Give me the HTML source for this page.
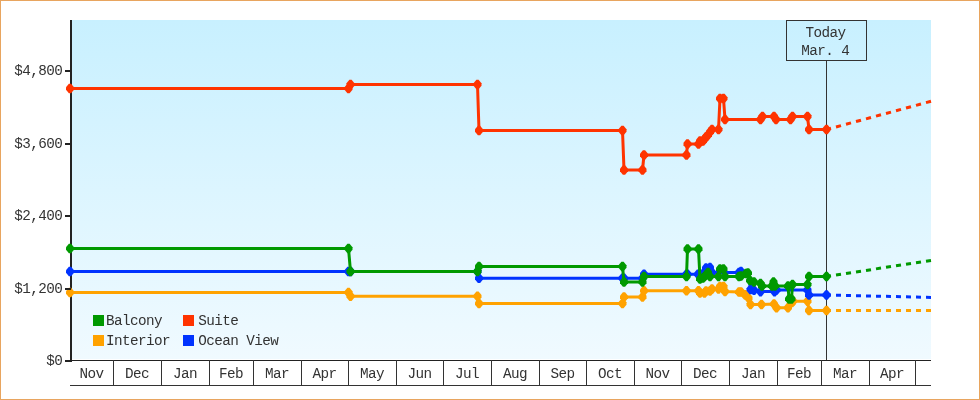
<!DOCTYPE html>
<html lang="en"><head><meta charset="utf-8"><title>Price history</title>
<style>
html,body{margin:0;padding:0;background:#fff;}
body{width:980px;height:400px;overflow:hidden;}
#chart{position:relative;width:978px;height:398px;border:1px solid #E8A55F;background:#fff;}
svg{position:absolute;left:-1px;top:-1px;display:block;}
text{font-family:"Liberation Mono", "DejaVu Sans Mono", monospace;font-size:14.3px;fill:#333333;letter-spacing:-0.58px;}
</style></head><body><div id="chart">
<svg width="980" height="400" viewBox="0 0 980 400">
<defs><linearGradient id="bg" x1="0" y1="0" x2="0" y2="1"><stop offset="0" stop-color="#C8F0FF"/><stop offset="1" stop-color="#F0FAFF"/></linearGradient></defs>

<rect x="71" y="20" width="860" height="339" fill="url(#bg)"/>
<rect x="826" y="60" width="1" height="300" fill="#333"/>
<rect x="786.5" y="20.5" width="80" height="40" fill="none" stroke="#333" stroke-width="1"/>
<text x="825.4" y="36.6" text-anchor="middle">Today</text>
<text x="825.2" y="54.8" text-anchor="middle">Mar. 4</text>
<rect x="70" y="20" width="2" height="342" fill="#222"/>
<rect x="70" y="360" width="861" height="1" fill="#222"/>
<rect x="70" y="385" width="861" height="1" fill="#333"/>
<path d="M70.0 292.5 L348.5 292.5 L350.5 296.3 L477.5 296.3 L479.0 303.5 L622.5 303.5 L624.0 297.0 L642.5 297.0 L644.0 290.8 L686.5 290.8 L698.5 290.8 L700.0 293.0 L704.5 293.0 L706.0 291.0 L710.0 291.0 L712.0 289.0 L718.5 289.0 L720.0 286.5 L723.5 286.5 L725.0 291.5 L739.0 292.0 L741.0 292.0 L745.0 294.8 L748.5 298.0 L750.5 304.5 L761.5 304.5 L774.0 304.0 L776.5 307.7 L788.0 307.7 L792.0 302.5 L793.0 301.3 L807.5 301.3 L809.0 310.5 L826.5 310.5" fill="none" stroke="#FFA200" stroke-width="3" stroke-linejoin="round"/>
<line x1="826.0" y1="310.50" x2="931.0" y2="310.50" stroke="#FFA200" stroke-width="3" stroke-dasharray="5.000 5.000"/>
<polygon fill="#FFA200" points="66.0,291.3 68.9,287.8 71.1,287.8 74.0,291.3 74.0,293.7 71.1,297.2 68.9,297.2 66.0,293.7"/>
<polygon fill="#FFA200" points="344.5,291.3 347.4,287.8 349.6,287.8 352.5,291.3 352.5,293.7 349.6,297.2 347.4,297.2 344.5,293.7"/>
<polygon fill="#FFA200" points="346.5,295.1 349.4,291.6 351.6,291.6 354.5,295.1 354.5,297.5 351.6,301.1 349.4,301.1 346.5,297.5"/>
<polygon fill="#FFA200" points="473.5,295.1 476.4,291.6 478.6,291.6 481.5,295.1 481.5,297.5 478.6,301.1 476.4,301.1 473.5,297.5"/>
<polygon fill="#FFA200" points="475.0,302.3 477.9,298.8 480.1,298.8 483.0,302.3 483.0,304.7 480.1,308.2 477.9,308.2 475.0,304.7"/>
<polygon fill="#FFA200" points="618.5,302.3 621.4,298.8 623.6,298.8 626.5,302.3 626.5,304.7 623.6,308.2 621.4,308.2 618.5,304.7"/>
<polygon fill="#FFA200" points="620.0,295.8 622.9,292.2 625.1,292.2 628.0,295.8 628.0,298.2 625.1,301.8 622.9,301.8 620.0,298.2"/>
<polygon fill="#FFA200" points="638.5,295.8 641.4,292.2 643.6,292.2 646.5,295.8 646.5,298.2 643.6,301.8 641.4,301.8 638.5,298.2"/>
<polygon fill="#FFA200" points="640.0,289.6 642.9,286.1 645.1,286.1 648.0,289.6 648.0,292.0 645.1,295.6 642.9,295.6 640.0,292.0"/>
<polygon fill="#FFA200" points="682.5,289.6 685.4,286.1 687.6,286.1 690.5,289.6 690.5,292.0 687.6,295.6 685.4,295.6 682.5,292.0"/>
<polygon fill="#FFA200" points="694.5,289.6 697.4,286.1 699.6,286.1 702.5,289.6 702.5,292.0 699.6,295.6 697.4,295.6 694.5,292.0"/>
<polygon fill="#FFA200" points="696.0,291.8 698.9,288.2 701.1,288.2 704.0,291.8 704.0,294.2 701.1,297.8 698.9,297.8 696.0,294.2"/>
<polygon fill="#FFA200" points="700.5,291.8 703.4,288.2 705.6,288.2 708.5,291.8 708.5,294.2 705.6,297.8 703.4,297.8 700.5,294.2"/>
<polygon fill="#FFA200" points="702.0,289.8 704.9,286.2 707.1,286.2 710.0,289.8 710.0,292.2 707.1,295.8 704.9,295.8 702.0,292.2"/>
<polygon fill="#FFA200" points="706.0,289.8 708.9,286.2 711.1,286.2 714.0,289.8 714.0,292.2 711.1,295.8 708.9,295.8 706.0,292.2"/>
<polygon fill="#FFA200" points="708.0,287.8 710.9,284.2 713.1,284.2 716.0,287.8 716.0,290.2 713.1,293.8 710.9,293.8 708.0,290.2"/>
<polygon fill="#FFA200" points="714.5,287.8 717.4,284.2 719.6,284.2 722.5,287.8 722.5,290.2 719.6,293.8 717.4,293.8 714.5,290.2"/>
<polygon fill="#FFA200" points="716.0,285.3 718.9,281.8 721.1,281.8 724.0,285.3 724.0,287.7 721.1,291.2 718.9,291.2 716.0,287.7"/>
<polygon fill="#FFA200" points="719.5,285.3 722.4,281.8 724.6,281.8 727.5,285.3 727.5,287.7 724.6,291.2 722.4,291.2 719.5,287.7"/>
<polygon fill="#FFA200" points="721.0,290.3 723.9,286.8 726.1,286.8 729.0,290.3 729.0,292.7 726.1,296.2 723.9,296.2 721.0,292.7"/>
<polygon fill="#FFA200" points="735.0,290.8 737.9,287.2 740.1,287.2 743.0,290.8 743.0,293.2 740.1,296.8 737.9,296.8 735.0,293.2"/>
<polygon fill="#FFA200" points="737.0,290.8 739.9,287.2 742.1,287.2 745.0,290.8 745.0,293.2 742.1,296.8 739.9,296.8 737.0,293.2"/>
<polygon fill="#FFA200" points="741.0,293.6 743.9,290.1 746.1,290.1 749.0,293.6 749.0,296.0 746.1,299.6 743.9,299.6 741.0,296.0"/>
<polygon fill="#FFA200" points="744.5,296.8 747.4,293.2 749.6,293.2 752.5,296.8 752.5,299.2 749.6,302.8 747.4,302.8 744.5,299.2"/>
<polygon fill="#FFA200" points="746.5,303.3 749.4,299.8 751.6,299.8 754.5,303.3 754.5,305.7 751.6,309.2 749.4,309.2 746.5,305.7"/>
<polygon fill="#FFA200" points="757.5,303.3 760.4,299.8 762.6,299.8 765.5,303.3 765.5,305.7 762.6,309.2 760.4,309.2 757.5,305.7"/>
<polygon fill="#FFA200" points="770.0,302.8 772.9,299.2 775.1,299.2 778.0,302.8 778.0,305.2 775.1,308.8 772.9,308.8 770.0,305.2"/>
<polygon fill="#FFA200" points="772.5,306.5 775.4,302.9 777.6,302.9 780.5,306.5 780.5,308.9 777.6,312.4 775.4,312.4 772.5,308.9"/>
<polygon fill="#FFA200" points="784.0,306.5 786.9,302.9 789.1,302.9 792.0,306.5 792.0,308.9 789.1,312.4 786.9,312.4 784.0,308.9"/>
<polygon fill="#FFA200" points="788.0,301.3 790.9,297.8 793.1,297.8 796.0,301.3 796.0,303.7 793.1,307.2 790.9,307.2 788.0,303.7"/>
<polygon fill="#FFA200" points="789.0,300.1 791.9,296.6 794.1,296.6 797.0,300.1 797.0,302.5 794.1,306.1 791.9,306.1 789.0,302.5"/>
<polygon fill="#FFA200" points="803.5,300.1 806.4,296.6 808.6,296.6 811.5,300.1 811.5,302.5 808.6,306.1 806.4,306.1 803.5,302.5"/>
<polygon fill="#FFA200" points="805.0,309.3 807.9,305.8 810.1,305.8 813.0,309.3 813.0,311.7 810.1,315.2 807.9,315.2 805.0,311.7"/>
<polygon fill="#FFA200" points="822.5,309.3 825.4,305.8 827.6,305.8 830.5,309.3 830.5,311.7 827.6,315.2 825.4,315.2 822.5,311.7"/>
<path d="M70.0 271.5 L348.5 271.5 L350.5 271.5 L477.5 271.5 L479.0 278.3 L622.5 278.3 L624.0 278.3 L642.5 278.3 L644.0 274.2 L686.5 274.2 L687.5 274.2 L698.0 274.2 L700.0 274.2 L704.5 272.0 L706.0 268.0 L710.0 267.5 L712.0 272.5 L739.0 272.5 L741.0 271.5 L748.5 272.5 L750.5 289.5 L754.0 290.3 L760.5 291.6 L774.5 291.6 L776.5 290.0 L807.5 290.0 L809.0 295.0 L826.5 295.0" fill="none" stroke="#0033FF" stroke-width="3" stroke-linejoin="round"/>
<line x1="826.0" y1="294.99" x2="931.0" y2="297.40" stroke="#0033FF" stroke-width="3" stroke-dasharray="5.001 5.001"/>
<polygon fill="#0033FF" points="66.0,270.3 68.9,266.8 71.1,266.8 74.0,270.3 74.0,272.7 71.1,276.2 68.9,276.2 66.0,272.7"/>
<polygon fill="#0033FF" points="344.5,270.3 347.4,266.8 349.6,266.8 352.5,270.3 352.5,272.7 349.6,276.2 347.4,276.2 344.5,272.7"/>
<polygon fill="#0033FF" points="346.5,270.3 349.4,266.8 351.6,266.8 354.5,270.3 354.5,272.7 351.6,276.2 349.4,276.2 346.5,272.7"/>
<polygon fill="#0033FF" points="473.5,270.3 476.4,266.8 478.6,266.8 481.5,270.3 481.5,272.7 478.6,276.2 476.4,276.2 473.5,272.7"/>
<polygon fill="#0033FF" points="475.0,277.1 477.9,273.6 480.1,273.6 483.0,277.1 483.0,279.5 480.1,283.1 477.9,283.1 475.0,279.5"/>
<polygon fill="#0033FF" points="618.5,277.1 621.4,273.6 623.6,273.6 626.5,277.1 626.5,279.5 623.6,283.1 621.4,283.1 618.5,279.5"/>
<polygon fill="#0033FF" points="620.0,277.1 622.9,273.6 625.1,273.6 628.0,277.1 628.0,279.5 625.1,283.1 622.9,283.1 620.0,279.5"/>
<polygon fill="#0033FF" points="638.5,277.1 641.4,273.6 643.6,273.6 646.5,277.1 646.5,279.5 643.6,283.1 641.4,283.1 638.5,279.5"/>
<polygon fill="#0033FF" points="640.0,273.0 642.9,269.4 645.1,269.4 648.0,273.0 648.0,275.4 645.1,278.9 642.9,278.9 640.0,275.4"/>
<polygon fill="#0033FF" points="682.5,273.0 685.4,269.4 687.6,269.4 690.5,273.0 690.5,275.4 687.6,278.9 685.4,278.9 682.5,275.4"/>
<polygon fill="#0033FF" points="683.5,273.0 686.4,269.4 688.6,269.4 691.5,273.0 691.5,275.4 688.6,278.9 686.4,278.9 683.5,275.4"/>
<polygon fill="#0033FF" points="694.0,273.0 696.9,269.4 699.1,269.4 702.0,273.0 702.0,275.4 699.1,278.9 696.9,278.9 694.0,275.4"/>
<polygon fill="#0033FF" points="696.0,273.0 698.9,269.4 701.1,269.4 704.0,273.0 704.0,275.4 701.1,278.9 698.9,278.9 696.0,275.4"/>
<polygon fill="#0033FF" points="700.5,270.8 703.4,267.2 705.6,267.2 708.5,270.8 708.5,273.2 705.6,276.8 703.4,276.8 700.5,273.2"/>
<polygon fill="#0033FF" points="702.0,266.8 704.9,263.2 707.1,263.2 710.0,266.8 710.0,269.2 707.1,272.8 704.9,272.8 702.0,269.2"/>
<polygon fill="#0033FF" points="706.0,266.3 708.9,262.8 711.1,262.8 714.0,266.3 714.0,268.7 711.1,272.2 708.9,272.2 706.0,268.7"/>
<polygon fill="#0033FF" points="708.0,271.3 710.9,267.8 713.1,267.8 716.0,271.3 716.0,273.7 713.1,277.2 710.9,277.2 708.0,273.7"/>
<polygon fill="#0033FF" points="735.0,271.3 737.9,267.8 740.1,267.8 743.0,271.3 743.0,273.7 740.1,277.2 737.9,277.2 735.0,273.7"/>
<polygon fill="#0033FF" points="737.0,270.3 739.9,266.8 742.1,266.8 745.0,270.3 745.0,272.7 742.1,276.2 739.9,276.2 737.0,272.7"/>
<polygon fill="#0033FF" points="746.5,288.3 749.4,284.8 751.6,284.8 754.5,288.3 754.5,290.7 751.6,294.2 749.4,294.2 746.5,290.7"/>
<polygon fill="#0033FF" points="750.0,289.1 752.9,285.6 755.1,285.6 758.0,289.1 758.0,291.5 755.1,295.1 752.9,295.1 750.0,291.5"/>
<polygon fill="#0033FF" points="756.5,290.4 759.4,286.9 761.6,286.9 764.5,290.4 764.5,292.8 761.6,296.4 759.4,296.4 756.5,292.8"/>
<polygon fill="#0033FF" points="770.5,290.4 773.4,286.9 775.6,286.9 778.5,290.4 778.5,292.8 775.6,296.4 773.4,296.4 770.5,292.8"/>
<polygon fill="#0033FF" points="772.5,288.8 775.4,285.2 777.6,285.2 780.5,288.8 780.5,291.2 777.6,294.8 775.4,294.8 772.5,291.2"/>
<polygon fill="#0033FF" points="803.5,288.8 806.4,285.2 808.6,285.2 811.5,288.8 811.5,291.2 808.6,294.8 806.4,294.8 803.5,291.2"/>
<polygon fill="#0033FF" points="805.0,293.8 807.9,290.2 810.1,290.2 813.0,293.8 813.0,296.2 810.1,299.8 807.9,299.8 805.0,296.2"/>
<polygon fill="#0033FF" points="822.5,293.8 825.4,290.2 827.6,290.2 830.5,293.8 830.5,296.2 827.6,299.8 825.4,299.8 822.5,296.2"/>
<path d="M70.0 248.5 L348.5 248.5 L350.5 271.5 L477.5 271.5 L479.0 266.5 L622.5 266.5 L624.0 282.0 L642.5 282.0 L644.0 276.5 L686.5 276.5 L687.5 249.0 L698.5 249.0 L700.0 279.0 L703.0 278.0 L704.5 276.5 L706.0 275.0 L708.0 272.5 L710.0 276.5 L718.5 276.5 L720.0 269.0 L723.5 269.0 L725.0 276.5 L739.0 276.5 L741.0 276.0 L746.0 273.5 L748.0 273.0 L750.0 280.5 L754.0 282.0 L760.5 283.5 L762.0 286.0 L772.0 286.0 L773.5 282.0 L775.0 286.0 L788.0 286.0 L789.0 299.0 L791.5 299.0 L792.5 284.5 L807.5 284.5 L809.0 276.5 L826.5 276.5" fill="none" stroke="#009900" stroke-width="3" stroke-linejoin="round"/>
<line x1="826.0" y1="276.58" x2="931.0" y2="260.40" stroke="#009900" stroke-width="3" stroke-dasharray="5.059 5.059"/>
<polygon fill="#009900" points="66.0,247.3 68.9,243.8 71.1,243.8 74.0,247.3 74.0,249.7 71.1,253.2 68.9,253.2 66.0,249.7"/>
<polygon fill="#009900" points="344.5,247.3 347.4,243.8 349.6,243.8 352.5,247.3 352.5,249.7 349.6,253.2 347.4,253.2 344.5,249.7"/>
<polygon fill="#009900" points="346.5,270.3 349.4,266.8 351.6,266.8 354.5,270.3 354.5,272.7 351.6,276.2 349.4,276.2 346.5,272.7"/>
<polygon fill="#009900" points="473.5,270.3 476.4,266.8 478.6,266.8 481.5,270.3 481.5,272.7 478.6,276.2 476.4,276.2 473.5,272.7"/>
<polygon fill="#009900" points="475.0,265.3 477.9,261.8 480.1,261.8 483.0,265.3 483.0,267.7 480.1,271.2 477.9,271.2 475.0,267.7"/>
<polygon fill="#009900" points="618.5,265.3 621.4,261.8 623.6,261.8 626.5,265.3 626.5,267.7 623.6,271.2 621.4,271.2 618.5,267.7"/>
<polygon fill="#009900" points="620.0,280.8 622.9,277.2 625.1,277.2 628.0,280.8 628.0,283.2 625.1,286.8 622.9,286.8 620.0,283.2"/>
<polygon fill="#009900" points="638.5,280.8 641.4,277.2 643.6,277.2 646.5,280.8 646.5,283.2 643.6,286.8 641.4,286.8 638.5,283.2"/>
<polygon fill="#009900" points="640.0,275.3 642.9,271.8 645.1,271.8 648.0,275.3 648.0,277.7 645.1,281.2 642.9,281.2 640.0,277.7"/>
<polygon fill="#009900" points="682.5,275.3 685.4,271.8 687.6,271.8 690.5,275.3 690.5,277.7 687.6,281.2 685.4,281.2 682.5,277.7"/>
<polygon fill="#009900" points="683.5,247.8 686.4,244.2 688.6,244.2 691.5,247.8 691.5,250.2 688.6,253.8 686.4,253.8 683.5,250.2"/>
<polygon fill="#009900" points="694.5,247.8 697.4,244.2 699.6,244.2 702.5,247.8 702.5,250.2 699.6,253.8 697.4,253.8 694.5,250.2"/>
<polygon fill="#009900" points="696.0,277.8 698.9,274.2 701.1,274.2 704.0,277.8 704.0,280.2 701.1,283.8 698.9,283.8 696.0,280.2"/>
<polygon fill="#009900" points="699.0,276.8 701.9,273.2 704.1,273.2 707.0,276.8 707.0,279.2 704.1,282.8 701.9,282.8 699.0,279.2"/>
<polygon fill="#009900" points="700.5,275.3 703.4,271.8 705.6,271.8 708.5,275.3 708.5,277.7 705.6,281.2 703.4,281.2 700.5,277.7"/>
<polygon fill="#009900" points="702.0,273.8 704.9,270.2 707.1,270.2 710.0,273.8 710.0,276.2 707.1,279.8 704.9,279.8 702.0,276.2"/>
<polygon fill="#009900" points="704.0,271.3 706.9,267.8 709.1,267.8 712.0,271.3 712.0,273.7 709.1,277.2 706.9,277.2 704.0,273.7"/>
<polygon fill="#009900" points="706.0,275.3 708.9,271.8 711.1,271.8 714.0,275.3 714.0,277.7 711.1,281.2 708.9,281.2 706.0,277.7"/>
<polygon fill="#009900" points="714.5,275.3 717.4,271.8 719.6,271.8 722.5,275.3 722.5,277.7 719.6,281.2 717.4,281.2 714.5,277.7"/>
<polygon fill="#009900" points="716.0,267.8 718.9,264.2 721.1,264.2 724.0,267.8 724.0,270.2 721.1,273.8 718.9,273.8 716.0,270.2"/>
<polygon fill="#009900" points="719.5,267.8 722.4,264.2 724.6,264.2 727.5,267.8 727.5,270.2 724.6,273.8 722.4,273.8 719.5,270.2"/>
<polygon fill="#009900" points="721.0,275.3 723.9,271.8 726.1,271.8 729.0,275.3 729.0,277.7 726.1,281.2 723.9,281.2 721.0,277.7"/>
<polygon fill="#009900" points="735.0,275.3 737.9,271.8 740.1,271.8 743.0,275.3 743.0,277.7 740.1,281.2 737.9,281.2 735.0,277.7"/>
<polygon fill="#009900" points="737.0,274.8 739.9,271.2 742.1,271.2 745.0,274.8 745.0,277.2 742.1,280.8 739.9,280.8 737.0,277.2"/>
<polygon fill="#009900" points="742.0,272.3 744.9,268.8 747.1,268.8 750.0,272.3 750.0,274.7 747.1,278.2 744.9,278.2 742.0,274.7"/>
<polygon fill="#009900" points="744.0,271.8 746.9,268.2 749.1,268.2 752.0,271.8 752.0,274.2 749.1,277.8 746.9,277.8 744.0,274.2"/>
<polygon fill="#009900" points="746.0,279.3 748.9,275.8 751.1,275.8 754.0,279.3 754.0,281.7 751.1,285.2 748.9,285.2 746.0,281.7"/>
<polygon fill="#009900" points="750.0,280.8 752.9,277.2 755.1,277.2 758.0,280.8 758.0,283.2 755.1,286.8 752.9,286.8 750.0,283.2"/>
<polygon fill="#009900" points="756.5,282.3 759.4,278.8 761.6,278.8 764.5,282.3 764.5,284.7 761.6,288.2 759.4,288.2 756.5,284.7"/>
<polygon fill="#009900" points="758.0,284.8 760.9,281.2 763.1,281.2 766.0,284.8 766.0,287.2 763.1,290.8 760.9,290.8 758.0,287.2"/>
<polygon fill="#009900" points="768.0,284.8 770.9,281.2 773.1,281.2 776.0,284.8 776.0,287.2 773.1,290.8 770.9,290.8 768.0,287.2"/>
<polygon fill="#009900" points="769.5,280.8 772.4,277.2 774.6,277.2 777.5,280.8 777.5,283.2 774.6,286.8 772.4,286.8 769.5,283.2"/>
<polygon fill="#009900" points="771.0,284.8 773.9,281.2 776.1,281.2 779.0,284.8 779.0,287.2 776.1,290.8 773.9,290.8 771.0,287.2"/>
<polygon fill="#009900" points="784.0,284.8 786.9,281.2 789.1,281.2 792.0,284.8 792.0,287.2 789.1,290.8 786.9,290.8 784.0,287.2"/>
<polygon fill="#009900" points="785.0,297.8 787.9,294.2 790.1,294.2 793.0,297.8 793.0,300.2 790.1,303.8 787.9,303.8 785.0,300.2"/>
<polygon fill="#009900" points="787.5,297.8 790.4,294.2 792.6,294.2 795.5,297.8 795.5,300.2 792.6,303.8 790.4,303.8 787.5,300.2"/>
<polygon fill="#009900" points="788.5,283.3 791.4,279.8 793.6,279.8 796.5,283.3 796.5,285.7 793.6,289.2 791.4,289.2 788.5,285.7"/>
<polygon fill="#009900" points="803.5,283.3 806.4,279.8 808.6,279.8 811.5,283.3 811.5,285.7 808.6,289.2 806.4,289.2 803.5,285.7"/>
<polygon fill="#009900" points="805.0,275.3 807.9,271.8 810.1,271.8 813.0,275.3 813.0,277.7 810.1,281.2 807.9,281.2 805.0,277.7"/>
<polygon fill="#009900" points="822.5,275.3 825.4,271.8 827.6,271.8 830.5,275.3 830.5,277.7 827.6,281.2 825.4,281.2 822.5,277.7"/>
<path d="M70.0 88.5 L348.5 88.5 L350.5 84.5 L477.5 84.5 L479.0 130.5 L622.5 130.5 L624.0 170.0 L642.5 170.0 L644.0 155.0 L686.5 155.0 L687.5 144.0 L698.5 144.0 L700.0 141.0 L703.0 141.0 L704.5 139.0 L706.0 137.0 L708.0 135.0 L710.0 132.0 L712.0 129.5 L718.5 129.5 L720.0 98.5 L723.5 98.5 L725.0 119.5 L760.5 119.5 L762.5 116.5 L774.0 116.5 L776.0 119.5 L790.5 119.5 L792.5 116.5 L807.5 116.5 L809.0 129.5 L826.5 129.5" fill="none" stroke="#FF3300" stroke-width="3" stroke-linejoin="round"/>
<line x1="826.0" y1="129.63" x2="931.0" y2="101.30" stroke="#FF3300" stroke-width="3" stroke-dasharray="5.179 5.179"/>
<polygon fill="#FF3300" points="66.0,87.3 68.9,83.8 71.1,83.8 74.0,87.3 74.0,89.7 71.1,93.2 68.9,93.2 66.0,89.7"/>
<polygon fill="#FF3300" points="344.5,87.3 347.4,83.8 349.6,83.8 352.5,87.3 352.5,89.7 349.6,93.2 347.4,93.2 344.5,89.7"/>
<polygon fill="#FF3300" points="346.5,83.3 349.4,79.8 351.6,79.8 354.5,83.3 354.5,85.7 351.6,89.2 349.4,89.2 346.5,85.7"/>
<polygon fill="#FF3300" points="473.5,83.3 476.4,79.8 478.6,79.8 481.5,83.3 481.5,85.7 478.6,89.2 476.4,89.2 473.5,85.7"/>
<polygon fill="#FF3300" points="475.0,129.3 477.9,125.8 480.1,125.8 483.0,129.3 483.0,131.7 480.1,135.2 477.9,135.2 475.0,131.7"/>
<polygon fill="#FF3300" points="618.5,129.3 621.4,125.8 623.6,125.8 626.5,129.3 626.5,131.7 623.6,135.2 621.4,135.2 618.5,131.7"/>
<polygon fill="#FF3300" points="620.0,168.8 622.9,165.2 625.1,165.2 628.0,168.8 628.0,171.2 625.1,174.8 622.9,174.8 620.0,171.2"/>
<polygon fill="#FF3300" points="638.5,168.8 641.4,165.2 643.6,165.2 646.5,168.8 646.5,171.2 643.6,174.8 641.4,174.8 638.5,171.2"/>
<polygon fill="#FF3300" points="640.0,153.8 642.9,150.2 645.1,150.2 648.0,153.8 648.0,156.2 645.1,159.8 642.9,159.8 640.0,156.2"/>
<polygon fill="#FF3300" points="682.5,153.8 685.4,150.2 687.6,150.2 690.5,153.8 690.5,156.2 687.6,159.8 685.4,159.8 682.5,156.2"/>
<polygon fill="#FF3300" points="683.5,142.8 686.4,139.2 688.6,139.2 691.5,142.8 691.5,145.2 688.6,148.8 686.4,148.8 683.5,145.2"/>
<polygon fill="#FF3300" points="694.5,142.8 697.4,139.2 699.6,139.2 702.5,142.8 702.5,145.2 699.6,148.8 697.4,148.8 694.5,145.2"/>
<polygon fill="#FF3300" points="696.0,139.8 698.9,136.2 701.1,136.2 704.0,139.8 704.0,142.2 701.1,145.8 698.9,145.8 696.0,142.2"/>
<polygon fill="#FF3300" points="699.0,139.8 701.9,136.2 704.1,136.2 707.0,139.8 707.0,142.2 704.1,145.8 701.9,145.8 699.0,142.2"/>
<polygon fill="#FF3300" points="700.5,137.8 703.4,134.2 705.6,134.2 708.5,137.8 708.5,140.2 705.6,143.8 703.4,143.8 700.5,140.2"/>
<polygon fill="#FF3300" points="702.0,135.8 704.9,132.2 707.1,132.2 710.0,135.8 710.0,138.2 707.1,141.8 704.9,141.8 702.0,138.2"/>
<polygon fill="#FF3300" points="704.0,133.8 706.9,130.2 709.1,130.2 712.0,133.8 712.0,136.2 709.1,139.8 706.9,139.8 704.0,136.2"/>
<polygon fill="#FF3300" points="706.0,130.8 708.9,127.2 711.1,127.2 714.0,130.8 714.0,133.2 711.1,136.8 708.9,136.8 706.0,133.2"/>
<polygon fill="#FF3300" points="708.0,128.3 710.9,124.8 713.1,124.8 716.0,128.3 716.0,130.7 713.1,134.2 710.9,134.2 708.0,130.7"/>
<polygon fill="#FF3300" points="714.5,128.3 717.4,124.8 719.6,124.8 722.5,128.3 722.5,130.7 719.6,134.2 717.4,134.2 714.5,130.7"/>
<polygon fill="#FF3300" points="716.0,97.3 718.9,93.8 721.1,93.8 724.0,97.3 724.0,99.7 721.1,103.2 718.9,103.2 716.0,99.7"/>
<polygon fill="#FF3300" points="719.5,97.3 722.4,93.8 724.6,93.8 727.5,97.3 727.5,99.7 724.6,103.2 722.4,103.2 719.5,99.7"/>
<polygon fill="#FF3300" points="721.0,118.3 723.9,114.8 726.1,114.8 729.0,118.3 729.0,120.7 726.1,124.2 723.9,124.2 721.0,120.7"/>
<polygon fill="#FF3300" points="756.5,118.3 759.4,114.8 761.6,114.8 764.5,118.3 764.5,120.7 761.6,124.2 759.4,124.2 756.5,120.7"/>
<polygon fill="#FF3300" points="758.5,115.3 761.4,111.8 763.6,111.8 766.5,115.3 766.5,117.7 763.6,121.2 761.4,121.2 758.5,117.7"/>
<polygon fill="#FF3300" points="770.0,115.3 772.9,111.8 775.1,111.8 778.0,115.3 778.0,117.7 775.1,121.2 772.9,121.2 770.0,117.7"/>
<polygon fill="#FF3300" points="772.0,118.3 774.9,114.8 777.1,114.8 780.0,118.3 780.0,120.7 777.1,124.2 774.9,124.2 772.0,120.7"/>
<polygon fill="#FF3300" points="786.5,118.3 789.4,114.8 791.6,114.8 794.5,118.3 794.5,120.7 791.6,124.2 789.4,124.2 786.5,120.7"/>
<polygon fill="#FF3300" points="788.5,115.3 791.4,111.8 793.6,111.8 796.5,115.3 796.5,117.7 793.6,121.2 791.4,121.2 788.5,117.7"/>
<polygon fill="#FF3300" points="803.5,115.3 806.4,111.8 808.6,111.8 811.5,115.3 811.5,117.7 808.6,121.2 806.4,121.2 803.5,117.7"/>
<polygon fill="#FF3300" points="805.0,128.3 807.9,124.8 810.1,124.8 813.0,128.3 813.0,130.7 810.1,134.2 807.9,134.2 805.0,130.7"/>
<polygon fill="#FF3300" points="822.5,128.3 825.4,124.8 827.6,124.8 830.5,128.3 830.5,130.7 827.6,134.2 825.4,134.2 822.5,130.7"/>
<rect x="65" y="70" width="6" height="2" fill="#222"/>
<text x="62.3" y="75.0" text-anchor="end">$4,800</text>
<rect x="65" y="143" width="6" height="2" fill="#222"/>
<text x="62.3" y="148.0" text-anchor="end">$3,600</text>
<rect x="65" y="215" width="6" height="2" fill="#222"/>
<text x="62.3" y="220.0" text-anchor="end">$2,400</text>
<rect x="65" y="288" width="6" height="2" fill="#222"/>
<text x="62.3" y="293.0" text-anchor="end">$1,200</text>
<rect x="65" y="360" width="6" height="2" fill="#222"/>
<text x="62.3" y="365.0" text-anchor="end">$0</text>
<rect x="113" y="360" width="1" height="25" fill="#333"/>
<text x="91.5" y="377.6" text-anchor="middle">Nov</text>
<rect x="161" y="360" width="1" height="25" fill="#333"/>
<text x="137.0" y="377.6" text-anchor="middle">Dec</text>
<rect x="209" y="360" width="1" height="25" fill="#333"/>
<text x="185.0" y="377.6" text-anchor="middle">Jan</text>
<rect x="253" y="360" width="1" height="25" fill="#333"/>
<text x="231.0" y="377.6" text-anchor="middle">Feb</text>
<rect x="301" y="360" width="1" height="25" fill="#333"/>
<text x="277.0" y="377.6" text-anchor="middle">Mar</text>
<rect x="348" y="360" width="1" height="25" fill="#333"/>
<text x="324.5" y="377.6" text-anchor="middle">Apr</text>
<rect x="396" y="360" width="1" height="25" fill="#333"/>
<text x="372.0" y="377.6" text-anchor="middle">May</text>
<rect x="443" y="360" width="1" height="25" fill="#333"/>
<text x="419.5" y="377.6" text-anchor="middle">Jun</text>
<rect x="491" y="360" width="1" height="25" fill="#333"/>
<text x="467.0" y="377.6" text-anchor="middle">Jul</text>
<rect x="539" y="360" width="1" height="25" fill="#333"/>
<text x="515.0" y="377.6" text-anchor="middle">Aug</text>
<rect x="586" y="360" width="1" height="25" fill="#333"/>
<text x="562.5" y="377.6" text-anchor="middle">Sep</text>
<rect x="634" y="360" width="1" height="25" fill="#333"/>
<text x="610.0" y="377.6" text-anchor="middle">Oct</text>
<rect x="681" y="360" width="1" height="25" fill="#333"/>
<text x="657.5" y="377.6" text-anchor="middle">Nov</text>
<rect x="729" y="360" width="1" height="25" fill="#333"/>
<text x="705.0" y="377.6" text-anchor="middle">Dec</text>
<rect x="777" y="360" width="1" height="25" fill="#333"/>
<text x="753.0" y="377.6" text-anchor="middle">Jan</text>
<rect x="821" y="360" width="1" height="25" fill="#333"/>
<text x="799.0" y="377.6" text-anchor="middle">Feb</text>
<rect x="869" y="360" width="1" height="25" fill="#333"/>
<text x="845.0" y="377.6" text-anchor="middle">Mar</text>
<rect x="915" y="360" width="1" height="25" fill="#333"/>
<text x="892.0" y="377.6" text-anchor="middle">Apr</text>
<rect x="93" y="315" width="11" height="11" fill="#009900"/>
<text x="106.0" y="324.7">Balcony</text>
<rect x="183" y="315" width="11" height="11" fill="#FF3300"/>
<text x="198.3" y="324.7">Suite</text>
<rect x="93" y="335" width="11" height="11" fill="#FFA200"/>
<text x="106.0" y="344.7">Interior</text>
<rect x="183" y="335" width="11" height="11" fill="#0033FF"/>
<text x="198.3" y="344.7">Ocean View</text>
</svg></div></body></html>
